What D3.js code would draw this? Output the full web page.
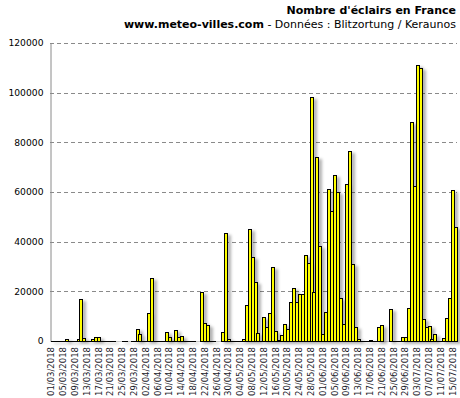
<!DOCTYPE html>
<html>
<head>
<meta charset="utf-8">
<script src="https://cdn.jsdelivr.net/npm/d3@7/dist/d3.min.js"></script>
<style>
  body { margin: 0; background: #fff; }
  svg { display: block; font-family: "DejaVu Sans", Verdana, sans-serif; }
</style>
</head>
<body>
<div id="graph"></div>
<script>
// nombre d'eclairs par jour, du 01/03/2018 au 16/07/2018 (null = pas de donnee)
var startDate = new Date(2018, 2, 1);
var marsValues = [0,0,0,0,0,900,0,0,0,700,17000,1300,0,0,900,1700,1700,0,0,0,0,0,null,null,0,0,null,0,0,4900,2900];
var avrilValues = [0,0,11300,25300,0,0,0,0,3700,1700,0,4500,1700,2100,0,0,0,0,null,null,19700,7300,6500,0,0,null,null,3700,43300,900];
var maiValues = [0,0,0,0,700,14300,44900,34000,23700,3300,0,9700,5700,11300,29700,4000,500,2300,6900,4700,15900,21300,15900,18900,18900,34700,31500,98200,19700,74100,38300];
var juinValues = [2900,11700,61300,52400,66800,60100,17300,6900,63300,76500,31100,5700,900,0,0,0,500,0,0,5700,6500,null,null,12700,0,0,0,1600,1600,13200];
var juilletValues = [88000,62500,111200,110000,8700,5600,6000,900,2700,0,0,1300,9300,17300,60900,46000];
var yTicks = [0, 20000, 40000, 60000, 80000, 100000, 120000];
var labelStep = 4;

var values = marsValues.concat(avrilValues, maiValues, juinValues, juilletValues);
var dataSet = values.map(function(v, i) {
  return {date: d3.timeDay.offset(startDate, i), value: v};
});
var fmt = d3.timeFormat('%d/%m/%Y');

var width = 460;
var height = 398;
var margin = {top: 43, right: 3, bottom: 57, left: 50};
var barW = 3;

var svg = d3.select('#graph')
            .append('svg')
            .attr('width', width)
            .attr('height', height);

var defs = svg.append('defs');
var shadow = defs.append('filter')
  .attr('id', 'shadow')
  .attr('x', '-50%').attr('y', '-10%')
  .attr('width', '300%').attr('height', '130%');
shadow.append('feDropShadow')
  .attr('dx', 3).attr('dy', 2)
  .attr('stdDeviation', 1.6)
  .attr('flood-color', '#000')
  .attr('flood-opacity', 0.3);

var xScale = d3.scaleBand()
  .domain(dataSet.map(function(d) { return fmt(d.date); }))
  .range([margin.left, width - margin.right])
  .padding(0);
var yScale = d3.scaleLinear()
  .domain([0, 120000])
  .range([height - margin.bottom, margin.top]);

// titres
svg.append('text')
  .attr('x', 456).attr('y', 14)
  .attr('text-anchor', 'end')
  .attr('font-size', '11px')
  .attr('font-weight', 'bold')
  .attr('fill', '#000')
  .text("Nombre d'éclairs en France");

var sub = svg.append('text')
  .attr('x', 456).attr('y', 27.5)
  .attr('text-anchor', 'end')
  .attr('font-size', '11px')
  .attr('fill', '#000');
sub.append('tspan').attr('font-weight', 'bold').text('www.meteo-villes.com');
sub.append('tspan').text(' - Données : Blitzortung / Keraunos');

// grille
svg.append('g')
  .selectAll('line')
  .data(yTicks.filter(function(t) { return t > 0; }))
  .enter()
  .append('line')
  .attr('x1', margin.left)
  .attr('x2', width - margin.right)
  .attr('y1', function(d) { return Math.round(yScale(d)) + 0.5; })
  .attr('y2', function(d) { return Math.round(yScale(d)) + 0.5; })
  .attr('stroke', '#8a8a8a')
  .attr('stroke-dasharray', '4,3');

// axes
var yAxis = d3.axisLeft(yScale)
  .tickValues(yTicks)
  .tickFormat(d3.format('d'))
  .tickSize(0)
  .tickPadding(7);
var gy = svg.append('g')
  .attr('transform', 'translate(' + (margin.left + 0.5) + ',0)')
  .call(yAxis);
gy.select('.domain').attr('stroke', '#8a8a8a');
gy.selectAll('text')
  .attr('font-family', '"DejaVu Sans", Verdana, sans-serif')
  .attr('font-size', '9.2px')
  .attr('fill', '#000');

svg.append('line')
  .attr('x1', margin.left).attr('x2', width - margin.right)
  .attr('y1', Math.round(yScale(0)) + 0.5).attr('y2', Math.round(yScale(0)) + 0.5)
  .attr('stroke', '#ccc');

// barres de largeur fixe, qui se recouvrent un peu (une valeur nulle donne un trait)
function barPath(d) {
  var x0 = Math.round(xScale(fmt(d.date))) + 0.5;
  var x1 = x0 + barW;
  var yb = Math.round(yScale(0)) + 0.5;
  var yt = Math.round(yScale(d.value)) + 0.5;
  if (yt >= yb) {
    return 'M' + x0 + ',' + yb + 'H' + x1;
  }
  return 'M' + x0 + ',' + yb + 'V' + yt + 'H' + x1 + 'V' + yb + 'Z';
}

svg.append('g')
  .attr('filter', 'url(#shadow)')
  .selectAll('path')
  .data(dataSet.filter(function(d) { return d.value !== null; }))
  .enter()
  .append('path')
  .attr('d', barPath)
  .attr('fill', '#ffff00')
  .attr('stroke', '#000')
  .attr('stroke-width', 1)
  .attr('shape-rendering', 'crispEdges');

// etiquettes des dates
var xLabels = dataSet.filter(function(d, i) { return i % labelStep === 0; });
svg.append('g')
  .selectAll('text')
  .data(xLabels)
  .enter()
  .append('text')
  .attr('transform', function(d) {
    var x = xScale(fmt(d.date)) + xScale.bandwidth() / 2;
    return 'translate(' + x + ',347) rotate(-90)';
  })
  .attr('text-anchor', 'end')
  .attr('dy', '0.35em')
  .attr('font-size', '8.5px')
  .attr('fill', '#1a1a2a')
  .text(function(d) { return fmt(d.date); });
</script>
</body>
</html>
